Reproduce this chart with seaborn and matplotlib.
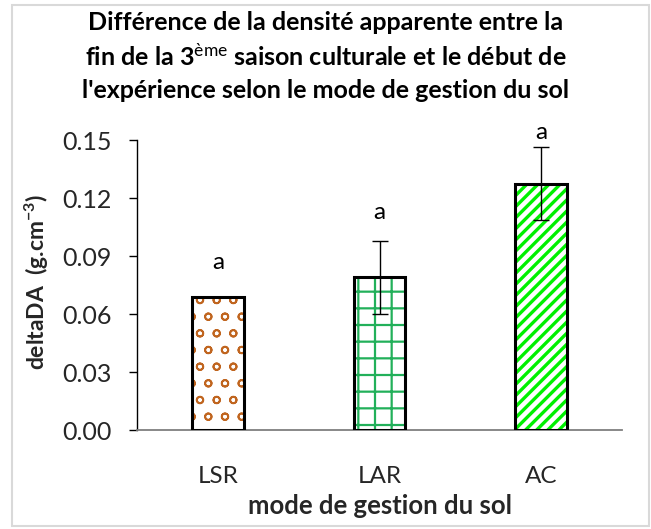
import matplotlib
matplotlib.use("Agg")
import matplotlib.pyplot as plt
import seaborn as sns
import pandas as pd
from matplotlib.patches import Rectangle

# ---- data ----
categories = ["LSR", "LAR", "AC"]
values = [0.069, 0.079, 0.1275]
errors = [0.0, 0.019, 0.019]
letters = ["a", "a", "a"]
yticks = [0.00, 0.03, 0.06, 0.09, 0.12, 0.15]

hatch_colors = ["#C0651F", "#22B05A", "#00F000"]
hatches = ["o", "+", "///"]
hatch_lws = [1.3, 1.6, 2.4]

sns.set_theme(style="white")
plt.rcParams['font.family'] = ['Lato', 'DejaVu Sans']
plt.rcParams['mathtext.fontset'] = 'custom'
plt.rcParams['mathtext.rm'] = 'Lato'
plt.rcParams['mathtext.bf'] = 'Lato:bold'
plt.rcParams['mathtext.it'] = 'Lato:italic'

df = pd.DataFrame({"mode": categories, "val": values})

fig = plt.figure(figsize=(6.51, 5.29), dpi=100)
ax = fig.add_axes([0.2104, 0.1871, 0.7451, 0.5482])

sns.barplot(data=df, x="mode", y="val", ax=ax, width=0.32, color="white",
            errorbar=None, order=categories)

for i, p in enumerate(ax.patches):
    plt.rcParams['hatch.linewidth'] = hatch_lws[i]
    x0, y0 = p.get_x(), p.get_y()
    w, h = p.get_width(), p.get_height()
    p.set_facecolor("white")
    p.set_edgecolor(hatch_colors[i])
    p.set_hatch(hatches[i])
    p.set_linewidth(0)
    if hasattr(p, "set_hatch_linewidth"):
        p.set_hatch_linewidth(hatch_lws[i])
    ax.add_patch(Rectangle((x0, y0), w, h, facecolor="none",
                           edgecolor="black", linewidth=2.2, zorder=3))
    cx = x0 + w / 2
    if errors[i] > 0:
        ax.errorbar(cx, values[i], yerr=errors[i], color="#000000",
                    elinewidth=1.0, capsize=6, capthick=1.0, zorder=4)

offsets = [0.012, 0.009, 0.002]
for i, p in enumerate(ax.patches[:3]):
    cx = p.get_x() + p.get_width() / 2
    ax.text(cx, values[i] + errors[i] + offsets[i], letters[i],
            ha="center", va="bottom", fontsize=17.5, color="black",
            clip_on=False, zorder=5)

ax.set_xlim(-0.5, 2.5)
ax.set_ylim(0, 0.15)
ax.set_yticks(yticks)
ax.set_yticklabels([f"{v:.2f}" for v in yticks])
ax.tick_params(axis="y", which="both", left=True, length=6, width=1.0,
               color="black", labelsize=18, pad=12, direction="out")
ax.tick_params(axis="x", bottom=False, labelsize=17.5, pad=20)
for s in ["top", "right"]:
    ax.spines[s].set_visible(False)
ax.spines["left"].set_color("black")
ax.spines["left"].set_linewidth(1.0)
ax.spines["bottom"].set_color("#7F7F7F")
ax.spines["bottom"].set_linewidth(1.3)

ax.set_xlabel("mode de gestion du sol", fontsize=18.5, fontweight="bold",
              labelpad=5)
ax.set_ylabel(r"deltaDA  (g.cm$^{\mathbf{-3}}$)", fontsize=16.5,
              fontweight="bold", labelpad=8)
ax.yaxis.set_label_coords(-0.178, 0.51)

title_lines = [
    "Différence de la densité apparente entre la",
    r"fin de la 3$^{\mathrm{ème}}$ saison culturale et le début de",
    "l'expérience selon le mode de gestion du sol",
]
for k, line in enumerate(title_lines):
    fig.text(0.5, 1 - (22 + 34 * k) / 529, line, ha="center", va="center",
             fontsize=18, fontweight="bold", color="black")

fig.patches.append(Rectangle((0.018, 0.005), 0.979, 0.985,
                             transform=fig.transFigure, facecolor="none",
                             edgecolor="#D9D9D9", linewidth=1.5, zorder=0))

fig.savefig("out.png", dpi=100)
